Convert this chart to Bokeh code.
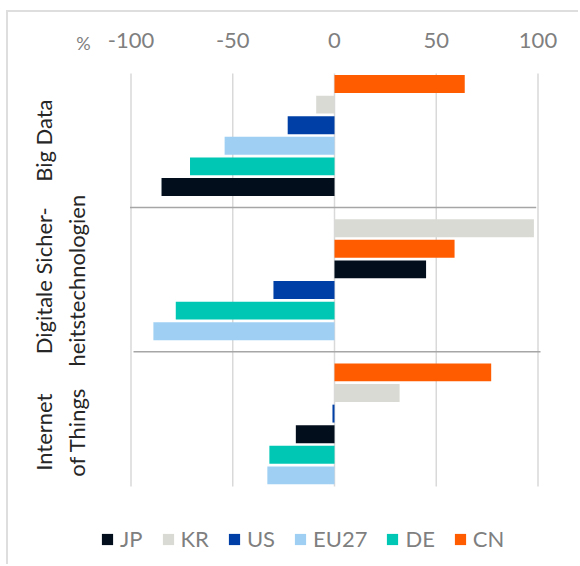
import numpy as np
from bokeh.plotting import figure
from bokeh.models import ColumnDataSource, Range1d, Legend, LegendItem, Label
from bokeh.core.properties import value
from bokeh.embed import file_html
from bokeh.resources import INLINE

# ---------------- data ----------------
categories = ["Big Data", "Digitale Sicherheitstechnologien", "Internet of Things"]
category_lines = [["Big Data"], ["Digitale Sicher-", "heitstechnologien"],
                  ["Internet", "of Things"]]
countries = ["JP", "KR", "US", "EU27", "DE", "CN"]
JP = [-85, 45, -19]
KR = [-9, 98, 32]
US = [-23, -30, -1]
EU27 = [-54, -89, -33]
DE = [-71, -78, -32]
CN = [64, 59, 77]
x_ticks = [-100, -50, 0, 50, 100]
x_tick_labels = ["-100", "-50", "0", "50", "100"]
unit_label = "%"

values = {"JP": JP, "KR": KR, "US": US, "EU27": EU27, "DE": DE, "CN": CN}
colors = {"JP": "#020e1c", "KR": "#dadad5", "US": "#003fa6",
          "EU27": "#9fd0f4", "DE": "#00c7b4", "CN": "#ff5c00"}

# ---------------- layout ----------------
GROUP_STEP = 7  # 6 bars + 1 gap slot
n = len(countries)
slots = {c: [] for c in countries}
for g in range(len(categories)):
    order = sorted(countries, key=lambda c: -values[c][g])
    for i, c in enumerate(order):
        slots[c].append(g * GROUP_STEP + i)

W, H = 572, 554
PX_X = 2.035      # px per %
PX_Y = 20.6       # px per bar slot
X0_PAGE, Y0_PAGE = 334, 83.5   # page position of value 0 / slot 0
OX, OY = 8, 12                 # page offset of canvas

def sx(px):   # page x -> data x
    return (px - X0_PAGE) / PX_X

def sy(py):   # page y -> data slot
    return (py - Y0_PAGE) / PX_Y

p = figure(width=W, height=H,
           x_range=Range1d(sx(OX), sx(OX + W)),
           y_range=Range1d(sy(OY + H), sy(OY)),
           x_axis_location=None, y_axis_location=None,
           output_backend="svg", toolbar_location=None,
           min_border=0)
p.outline_line_color = None
p.background_fill_color = "white"
p.border_fill_color = "white"
p.xgrid.visible = False
p.ygrid.visible = False
p.margin = (10, 0, 0, 6)
p.styles = {"border-left": "2px solid #dedede", "border-top": "2px solid #dedede"}

FONT = "Lato"

data_top = -0.51
data_bottom = (len(categories) - 1) * GROUP_STEP + n - 1 + 0.54

# grid lines
p.segment(x0=x_ticks, x1=x_ticks, y0=[data_top] * len(x_ticks),
          y1=[data_bottom] * len(x_ticks), line_color="#d9d9d9", line_width=1.5)

# tick labels (top axis)
p.text(x=x_ticks, y=[sy(40)] * len(x_ticks), text=x_tick_labels,
       text_align="center", text_baseline="middle",
       text_font=value(FONT), text_font_size="22px", text_color="#7f7f7f")

# unit label
p.text(x=[sx(83)], y=[sy(42)], text=[unit_label], text_align="center",
       text_baseline="middle", text_font=value(FONT), text_font_size="18px",
       text_color="#7f7f7f")

# bars
renderers = {}
for c in countries:
    src = ColumnDataSource(dict(y=slots[c], v=values[c]))
    renderers[c] = p.hbar(y="y", left=0, right="v", height=0.87, source=src,
                          fill_color=colors[c], line_color=None)

# group separators
sep_y = [g * GROUP_STEP + n - 0.5 + (GROUP_STEP - n) / 2
         for g in range(len(categories) - 1)]
p.segment(x0=[sx(129.5), sx(133)], x1=[sx(535.7), sx(540)], y0=sep_y, y1=sep_y,
          line_color="#a6a6a6", line_width=1.5)

# category labels
line_x = [sx(43), sx(76)]
label_shift = [0.25, 0.05, 0.4]
for g, lines in enumerate(category_lines):
    yc = g * GROUP_STEP + (n - 1) / 2 + label_shift[g]
    for k, t in enumerate(lines):
        p.add_layout(Label(x=line_x[k], y=yc, text=t, angle=np.pi / 2,
                           text_align="center", text_baseline="middle",
                           text_font=FONT, text_font_size="22px",
                           text_color="#262626"))

# legend
legend = Legend(items=[LegendItem(label=c, renderers=[renderers[c]]) for c in countries],
                orientation="horizontal", location=(92, 14),
                glyph_width=14, glyph_height=14, label_standoff=6, spacing=18,
                padding=4, margin=0, border_line_color=None,
                background_fill_alpha=0,
                label_text_font=FONT, label_text_font_size="22px",
                label_text_color="#7f7f7f")
p.add_layout(legend, "center")

open("out.html", "w").write(file_html(p, INLINE))
